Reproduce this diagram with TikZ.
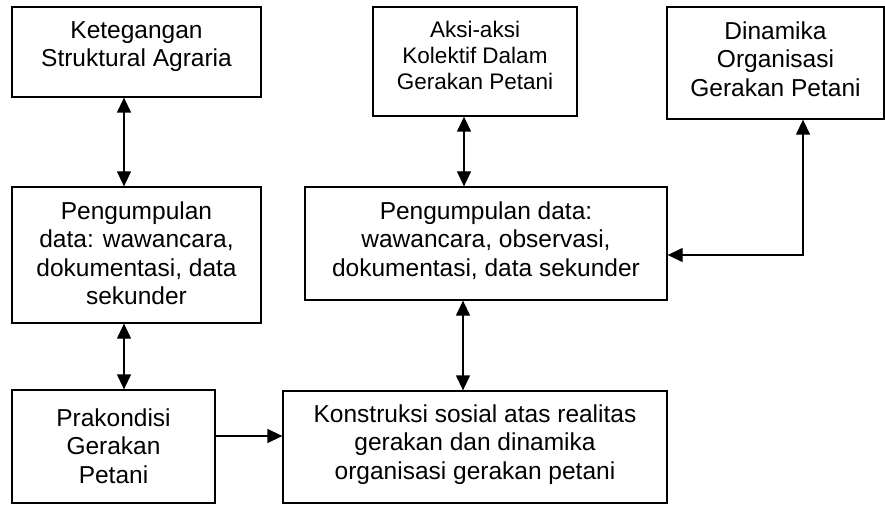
\documentclass[tikz,border=0pt]{standalone}
\usepackage{fontspec}
\setmainfont{Liberation Sans}
\usetikzlibrary{arrows.meta}
\begin{document}
\begin{tikzpicture}[x=1pt,y=1pt,
  box/.style={draw, line width=1.3pt, inner sep=0pt},
  txt/.style={anchor=north, align=center, inner sep=0pt, font=\fontsize{24.5}{28.5}\selectfont},
  txtsmall/.style={anchor=north, align=center, inner sep=0pt, font=\fontsize{22.5}{26}\selectfont},
  con/.style={line width=1.3pt, {Triangle[length=15pt,width=14pt]}-{Triangle[length=15pt,width=14pt]}},
  one/.style={line width=1.3pt, -{Triangle[length=15pt,width=14pt]}}]
\useasboundingbox (0,0) rectangle (885,504);
\node[box, minimum width=249pt, minimum height=90pt] (K) at (136.5,452) {};
\node[box, minimum width=249pt, minimum height=136pt] (PL) at (136.5,249) {};
\node[box, minimum width=203pt, minimum height=113pt] (Pr) at (113.5,57.5) {};
\node[box, minimum width=384pt, minimum height=112pt] (Ko) at (475,57) {};
\node[box, minimum width=362pt, minimum height=113pt] (PR) at (486,260.5) {};
\node[box, minimum width=204pt, minimum height=109pt] (A) at (475,442.5) {};
\node[box, minimum width=217pt, minimum height=112pt] (D) at (775.5,441) {};

\node[txt] (Kt) at ([yshift=-15pt]K.north) {Ketegangan\\Struktural Agraria};
\node[txt] (PLt) at ([yshift=-15pt]PL.north) {Pengumpulan\\data: wawancara,\\dokumentasi, data\\sekunder};
\node[txt] (Prt) at ([yshift=-19pt]Pr.north) {Prakondisi\\Gerakan\\Petani};
\node[txt] (Kot) at ([yshift=-14pt]Ko.north) {Konstruksi sosial atas realitas\\gerakan dan dinamika\\organisasi gerakan petani};
\node[txt] (PRt) at ([yshift=-15pt]PR.north) {Pengumpulan data:\\wawancara, observasi,\\dokumentasi, data sekunder};
\node[txtsmall] (At) at ([yshift=-14.6pt]A.north) {Aksi-aksi\\Kolektif Dalam\\Gerakan Petani};
\node[txt] (Dt) at ([yshift=-15pt]D.north) {Dinamika\\Organisasi\\Gerakan Petani};

\draw[con] (124,0 |- K.south) -- (124,0 |- PL.north);
\draw[con] (124,0 |- PL.south) -- (124,0 |- Pr.north);
\draw[one] (Pr.east |- 0,68) -- (Ko.west |- 0,68);
\draw[con] (464,0 |- A.south) -- (464,0 |- PR.north);
\draw[con] (463,0 |- PR.south) -- (463,0 |- Ko.north);
\draw[con] (803,0 |- D.south) |- (PR.east |- 0,249);
\end{tikzpicture}
\end{document}
